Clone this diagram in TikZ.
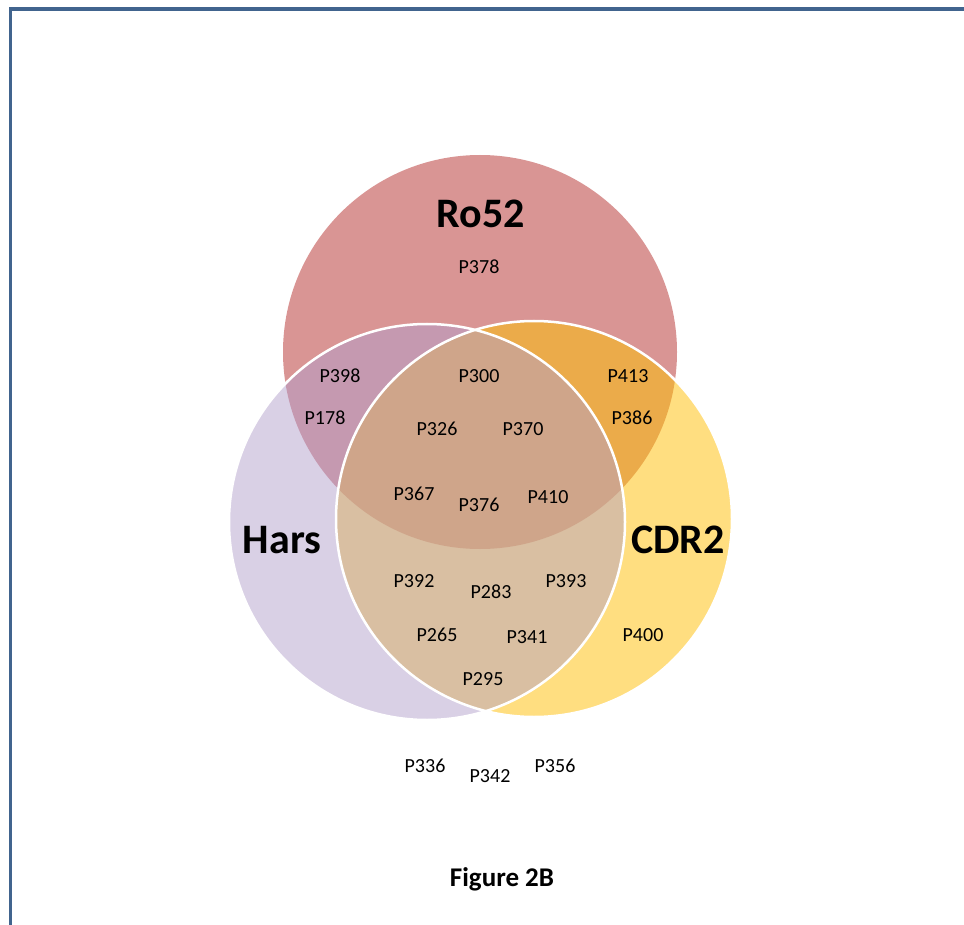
\documentclass[tikz,border=0pt]{standalone}
\usepackage{fontspec}
\setmainfont{Carlito}
\usepackage{tikz}
\definecolor{frameblue}{RGB}{65,100,142}
\definecolor{rofill}{RGB}{217,149,148}
\definecolor{hafill}{RGB}{217,208,229}
\definecolor{cdfill}{RGB}{255,222,128}
\definecolor{rohafill}{RGB}{197,153,176}
\definecolor{rocdfill}{RGB}{235,171,74}
\definecolor{hacdfill}{RGB}{217,191,162}
\definecolor{allfill}{RGB}{207,165,138}
\usetikzlibrary{positioning,calc}

\begin{document}
\begin{tikzpicture}[x=1pt,y=-1pt,
    setlabel/.style={font=\bfseries\fontsize{42}{48}\selectfont, inner sep=0pt, anchor=base},
    pid/.style={font=\fontsize{20}{24}\selectfont, inner sep=0pt, anchor=base},
    rim/.style={draw=white, line width=2.5pt}]
            \useasboundingbox (0,0) rectangle (964,925);
            % frame
            \coordinate (fbot) at (10.5,925);
            \coordinate (fcorner) at (10.5,9);
            \coordinate (fright) at (964,9);
            \draw[frameblue, line width=3.5pt] (fbot) -- (fcorner) -- (fright);

            % circle centres
            \coordinate (ro) at (480,352);
            \coordinate (ha) at (427,522);
            \coordinate (cd) at (534,519);

            \fill[rofill] (ro) circle[radius=197pt];
            \fill[hafill] (ha) circle[radius=198pt];
            \fill[cdfill] (cd) circle[radius=198pt];
            \begin{scope}
                \clip (ro) circle[radius=197pt];
                \fill[rohafill] (ha) circle[radius=198pt];
                \fill[rocdfill] (cd) circle[radius=198pt];
            \end{scope}
            \begin{scope}
                \clip (ha) circle[radius=198pt];
                \fill[hacdfill] (cd) circle[radius=198pt];
                \clip (ro) circle[radius=197pt];
                \fill[allfill] (cd) circle[radius=198pt];
            \end{scope}
            \draw[rim] (ha) circle[radius=198pt];
            \draw[rim] (cd) circle[radius=198pt];

            % set names
            \node[setlabel] (ro52) at (481,228) {Ro52};
            \node[setlabel] (hars) at (282,553) {Hars};
            \node[setlabel] (cdr2) at (678,553) {CDR2};

            % patients
            \node[pid] (p378) at (479,274) {P378};
            \node[pid] (p398) at (340,382) {P398};
            \node[pid] (p178) at (325,424.5) {P178};
            \node[pid] (p300) at (479,382) {P300};
            \node[pid] (p413) at (628,382) {P413};
            \node[pid] (p386) at (632,424.5) {P386};
            \node[pid] (p326) at (437,435.5) {P326};
            \node[pid] (p370) at (523,435.5) {P370};
            \node[pid] (p367) at (414,500.5) {P367};
            \node[pid] (p376) at (479,511.5) {P376};
            \node[pid] (p410) at (548,503.5) {P410};
            \node[pid] (p392) at (414,587.5) {P392};
            \node[pid] (p283) at (491,598) {P283};
            \node[pid] (p393) at (566,587.5) {P393};
            \node[pid] (p265) at (437,641.5) {P265};
            \node[pid] (p341) at (527,643.5) {P341};
            \node[pid] (p295) at (483,685.5) {P295};
            \node[pid] (p400) at (643,641.5) {P400};
            \node[pid] (p336) at (425,772.5) {P336};
            \node[pid] (p342) at (490,782) {P342};
            \node[pid] (p356) at (555,772.5) {P356};

            \node[font=\bfseries\fontsize{27}{32}\selectfont, inner sep=0pt, anchor=base] (fig) at (502,886) {Figure 2B};
        \end{tikzpicture}
\end{document}
